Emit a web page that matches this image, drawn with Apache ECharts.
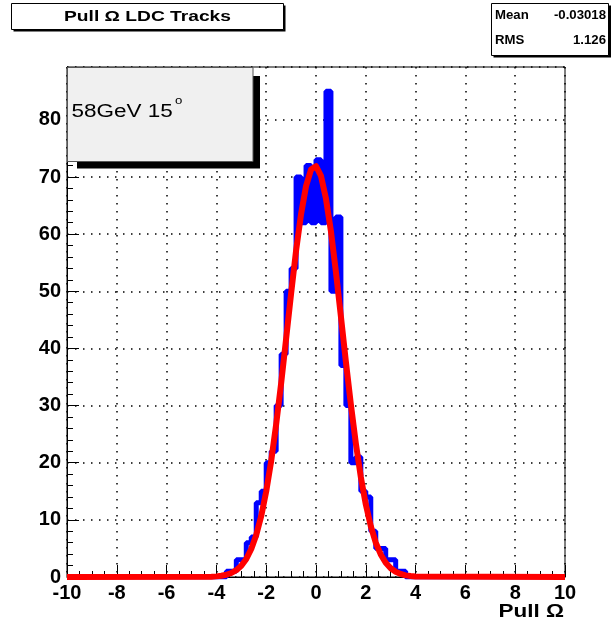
<!DOCTYPE html>
<html>
<head>
<meta charset="utf-8">
<script src="https://cdn.jsdelivr.net/npm/echarts@6/dist/echarts.min.js"></script>
<style>
  html, body { margin: 0; padding: 0; background: #fff; }
  #chart { width: 611px; height: 628px; }
</style>
</head>
<body>
<div id="chart"></div>
<script>
// Pull of Omega for LDC tracks: 100 bins of width 0.2 on [-10, 10]
const binRange = [-10, 10];
const counts = [
  0, 0, 0, 0, 0, 0, 0, 0, 0, 0,
  0, 0, 0, 0, 0, 0, 0, 0, 0, 0,
  0, 0, 0, 0, 0, 0, 0, 0, 0, 0,
  0, 0, 1, 1, 3, 3, 6, 7, 13, 15,
  20, 22, 30, 39, 50, 54, 70, 62, 72, 62,
  73, 62, 85, 50, 63, 37, 30, 20, 21, 15,
  14, 8, 5, 5, 3, 3, 1, 1, 0, 0,
  0, 0, 0, 0, 0, 0, 0, 0, 0, 0,
  0, 0, 0, 0, 0, 0, 0, 0, 0, 0,
  0, 0, 0, 0, 0, 0, 0, 0, 0, 0
];

// Gaussian fit curve, sampled
const fitX = [-10, -4.2, -4.0, -3.8, -3.6, -3.4, -3.2, -3.0, -2.8, -2.6, -2.4, -2.2, -2.0,
  -1.8, -1.6, -1.4, -1.2, -1.0, -0.8, -0.6, -0.4, -0.2, 0.0, 0.2, 0.4, 0.6, 0.8, 1.0,
  1.2, 1.4, 1.6, 1.8, 2.0, 2.2, 2.4, 2.6, 2.8, 3.0, 3.2, 3.4, 3.6, 3.8, 4.0, 10];
const fitY = [0, 0.06, 0.11, 0.21, 0.39, 0.70, 1.19, 1.97, 3.16, 4.90, 7.36, 10.66, 14.96,
  20.3, 26.7, 33.9, 41.7, 49.6, 57.1, 63.5, 68.4, 71.3, 71.9, 70.2, 66.2, 60.5, 53.4, 45.6,
  37.7, 30.2, 23.4, 17.5, 12.7, 8.9, 6.0, 3.95, 2.5, 1.54, 0.91, 0.53, 0.29, 0.16, 0.08, 0];

// Axis settings
const xAxisRange = [-10, 10], xStep = 2;
const yAxisRange = [0, 89.25], yStep = 10;

// Texts
const titleText = 'Pull \u03a9 LDC Tracks';
const statNames = ['Mean', 'RMS'];
const statValues = ['-0.03018', '1.126'];
const legendText = '58GeV 15';
const xAxisTitle = 'Pull \u03a9';

// Step-line points: one point per bin at its low edge, plus closing edge
const binWidth = (binRange[1] - binRange[0]) / counts.length;
const histData = counts.map((c, i) => [binRange[0] + i * binWidth, c]);
histData.push([binRange[1], counts[counts.length - 1]]);
const fitData = fitX.map((x, i) => [x, fitY[i]]);

const FONT = '"Liberation Sans", Arial, Helvetica, sans-serif';
const dotted = { color: '#000', width: 1.5, type: [1.5, 6.5] };

const chart = echarts.init(document.getElementById('chart'));
chart.setOption({
  backgroundColor: '#fff',
  animation: false,
  grid: { left: 67, right: 46, top: 67, bottom: 51, show: true, borderColor: '#000', borderWidth: 1 },
  xAxis: {
    type: 'value', min: xAxisRange[0], max: xAxisRange[1], interval: xStep,
    axisLine: { onZero: false, lineStyle: { color: '#000', width: 1 } },
    axisTick: { inside: true, length: 12, lineStyle: { color: '#000', width: 1 } },
    minorTick: { show: true, splitNumber: 4, length: 6, lineStyle: { color: '#000', width: 1 } },
    axisLabel: { color: '#000', fontFamily: FONT, fontWeight: 'bold', fontSize: 20, margin: 6 },
    splitLine: { show: true, lineStyle: dotted }
  },
  yAxis: {
    type: 'value', min: yAxisRange[0], max: yAxisRange[1], interval: yStep,
    axisLine: { onZero: false, lineStyle: { color: '#000', width: 1 } },
    axisTick: { inside: true, length: 12, lineStyle: { color: '#000', width: 1 } },
    minorTick: { show: true, splitNumber: 5, length: 6, lineStyle: { color: '#000', width: 1 } },
    axisLabel: { color: '#000', fontFamily: FONT, fontWeight: 'bold', fontSize: 20, margin: 6, showMaxLabel: false },
    splitLine: { show: true, lineStyle: dotted }
  },
  series: [
    {
      type: 'line', step: 'end', data: histData, symbol: 'none',
      lineStyle: { color: '#0000ff', width: 5 }, z: 3
    },
    {
      type: 'line', data: fitData, symbol: 'none',
      lineStyle: { color: '#ff0000', width: 6, join: 'round' }, z: 4
    }
  ],
  graphic: [
    // title box
    { type: 'rect', z: 100, shape: { x: 13.5, y: 5.5, width: 272, height: 26 }, style: { fill: '#000' } },
    { type: 'rect', z: 100, shape: { x: 11.5, y: 3.5, width: 272, height: 26 }, style: { fill: '#fff', stroke: '#000', lineWidth: 1 } },
    { type: 'text', z: 101, x: 147.5, y: 17, scaleX: 1.28,
      style: { text: titleText, font: 'bold 15px ' + FONT, fill: '#000', textAlign: 'center', textVerticalAlign: 'middle', verticalAlign: 'middle' } },
    // statistics box
    { type: 'rect', z: 100, shape: { x: 493.5, y: 5.5, width: 118, height: 52 }, style: { fill: '#000' } },
    { type: 'rect', z: 100, shape: { x: 491.5, y: 3.5, width: 117, height: 52 }, style: { fill: '#fff', stroke: '#000', lineWidth: 1 } },
    { type: 'text', z: 101, x: 495, y: 16, scaleX: 1.1,
      style: { text: statNames[0], font: 'bold 12px ' + FONT, fill: '#000', textAlign: 'left', textVerticalAlign: 'middle', verticalAlign: 'middle' } },
    { type: 'text', z: 101, x: 606, y: 16, scaleX: 1.1,
      style: { text: statValues[0], font: 'bold 12px ' + FONT, fill: '#000', textAlign: 'right', textVerticalAlign: 'middle', verticalAlign: 'middle' } },
    { type: 'text', z: 101, x: 495, y: 41, scaleX: 1.1,
      style: { text: statNames[1], font: 'bold 12px ' + FONT, fill: '#000', textAlign: 'left', textVerticalAlign: 'middle', verticalAlign: 'middle' } },
    { type: 'text', z: 101, x: 606, y: 41, scaleX: 1.1,
      style: { text: statValues[1], font: 'bold 12px ' + FONT, fill: '#000', textAlign: 'right', textVerticalAlign: 'middle', verticalAlign: 'middle' } },
    // legend box with drop shadow
    { type: 'rect', z: 100, shape: { x: 77, y: 76, width: 183, height: 92.5 }, style: { fill: '#000' } },
    { type: 'rect', z: 100, shape: { x: 67.5, y: 67.5, width: 185.5, height: 94 }, style: { fill: '#f0f0f0', stroke: '#555', lineWidth: 1 } },
    { type: 'text', z: 101, x: 71.5, y: 112, scaleX: 1.25,
      style: { text: legendText, font: '18px ' + FONT, fill: '#000', textAlign: 'left', textVerticalAlign: 'middle', verticalAlign: 'middle' } },
    { type: 'text', z: 101, x: 175, y: 101, scaleX: 1.2,
      style: { text: 'o', font: '11px ' + FONT, fill: '#000', textAlign: 'left', textVerticalAlign: 'middle', verticalAlign: 'middle' } },
    // x-axis title
    { type: 'text', z: 101, x: 564, y: 612, scaleX: 1.25,
      style: { text: xAxisTitle, font: 'bold 18px ' + FONT, fill: '#000', textAlign: 'right', textVerticalAlign: 'middle', verticalAlign: 'middle' } }
  ]
});
</script>
</body>
</html>
